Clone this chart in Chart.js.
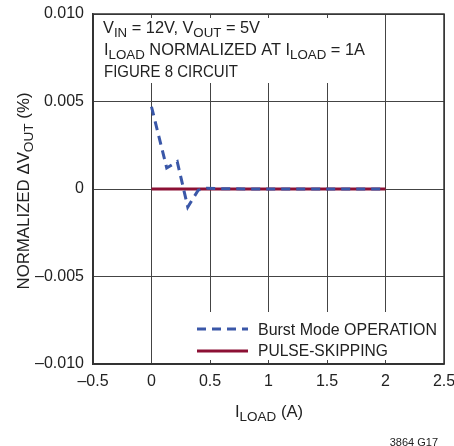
<!DOCTYPE html>
<html>
<head>
<meta charset="utf-8">
<script src="https://cdn.jsdelivr.net/npm/chart.js@4"></script>
<style>
  body { margin: 0; background: #fff; }
  canvas { display: block; }
</style>
</head>
<body>
<canvas id="myChart" width="454" height="446"></canvas>
<script>
// data
const burstLoad = [0, 0.13, 0.22, 0.31, 0.40, 0.47, 0.6, 0.8, 1.0, 1.25, 1.5, 1.75, 2.0];
const burstDelta = [0.0047, 0.0012, 0.00156, -0.00103, -0.00006, 0.00004, 0.00002, 0, 0, 0, 0, 0, 0];
const pulseLoad = [0, 0.1, 0.2, 0.3, 0.5, 0.75, 1.0, 1.25, 1.5, 1.75, 2.0];
const pulseDelta = [0, 0, 0, 0, 0, 0, 0, 0, 0, 0, 0];
const xTicks = [-0.5, 0, 0.5, 1, 1.5, 2, 2.5];
const yTicks = [-0.01, -0.005, 0, 0.005, 0.01];

const FONT = '"Liberation Sans", Arial, sans-serif';
const BLUE = '#3a57a8';
const RED = '#8c1034';
const TEXT = '#222';

function toPoints(xs, ys) {
  return xs.map((x, i) => ({ x: x, y: ys[i] }));
}

function fmt(v, digits) {
  if (Math.abs(v) < 1e-9) return '0';
  const s = digits ? Math.abs(v).toFixed(digits) : String(Math.abs(v));
  return (v < 0 ? '\u2013' : '') + s;
}

// stop the scales from pushing the plot area in for their edge labels
function fixPadding(s) {
  s.paddingLeft = 0;
  s.paddingRight = 0;
  s.paddingTop = 0;
  s.paddingBottom = 0;
}

// draw text made of [string, isSub] parts, stretched sideways to a target width
function drawRich(ctx, parts, x, y, size, subSize, align, target) {
  let w = 0;
  parts.forEach(p => {
    ctx.font = (p[1] ? subSize : size) + 'px ' + FONT;
    w += ctx.measureText(p[0]).width;
  });
  const sx = target ? target / w : 1;
  ctx.save();
  ctx.translate(x, y);
  ctx.scale(sx, 1);
  let cx = align === 'center' ? -w / 2 : 0;
  ctx.textAlign = 'left';
  ctx.textBaseline = 'alphabetic';
  parts.forEach(p => {
    ctx.font = (p[1] ? subSize : size) + 'px ' + FONT;
    ctx.fillText(p[0], cx, p[1] ? 4 : 0);
    cx += ctx.measureText(p[0]).width;
  });
  ctx.restore();
}

const boxes = {
  id: 'boxes',
  beforeDatasetsDraw(chart) {
    const ctx = chart.ctx;
    ctx.save();
    ctx.fillStyle = '#fff';
    ctx.fillRect(95, 18, 275, 65);   // note box
    ctx.fillRect(190, 312, 252, 48); // legend box
    ctx.restore();
  },
  afterDraw(chart) {
    const ctx = chart.ctx;
    const a = chart.chartArea;
    ctx.save();
    // full frame
    ctx.strokeStyle = '#333';
    ctx.lineWidth = 1.5;
    ctx.strokeRect(a.left, a.top, a.right - a.left, a.bottom - a.top);

    ctx.fillStyle = TEXT;
    // note text
    drawRich(ctx, [['V', 0], ['IN', 1], [' = 12V, V', 0], ['OUT', 1], [' = 5V', 0]], 103, 33, 16, 13, 'left', 157);
    drawRich(ctx, [['I', 0], ['LOAD', 1], [' NORMALIZED AT I', 0], ['LOAD', 1], [' = 1A', 0]], 104, 55, 16, 13, 'left', 261);
    drawRich(ctx, [['FIGURE 8 CIRCUIT', 0]], 104, 77, 16, 13, 'left', 134);

    // legend
    ctx.lineWidth = 3;
    ctx.strokeStyle = BLUE;
    ctx.setLineDash([9, 6]);
    ctx.beginPath(); ctx.moveTo(197, 329); ctx.lineTo(248, 329); ctx.stroke();
    ctx.setLineDash([]);
    ctx.strokeStyle = RED;
    ctx.beginPath(); ctx.moveTo(197, 351); ctx.lineTo(248, 351); ctx.stroke();
    drawRich(ctx, [['Burst Mode OPERATION', 0]], 258, 335, 17, 13, 'left', 179);
    drawRich(ctx, [['PULSE-SKIPPING', 0]], 258, 356, 17, 13, 'left', 130);

    // axis titles
    drawRich(ctx, [['I', 0], ['LOAD', 1], [' (A)', 0]], 269, 417, 16, 13, 'center', 68);
    ctx.save();
    ctx.translate(29, 191);
    ctx.rotate(-Math.PI / 2);
    drawRich(ctx, [['NORMALIZED \u0394V', 0], ['OUT', 1], [' (%)', 0]], 0, 0, 16, 13, 'center', 197);
    ctx.restore();

    ctx.font = '11px ' + FONT;
    ctx.textAlign = 'right';
    ctx.fillText('3864 G17', 438, 446);
    ctx.restore();
  }
};

new Chart(document.getElementById('myChart').getContext('2d'), {
  type: 'line',
  data: {
    datasets: [{
      label: 'Burst Mode OPERATION',
      data: toPoints(burstLoad, burstDelta),
      borderColor: BLUE,
      borderWidth: 3,
      borderDash: [9, 6],
      pointRadius: 0,
      tension: 0,
      order: 0,
    }, {
      label: 'PULSE-SKIPPING',
      data: toPoints(pulseLoad, pulseDelta),
      borderColor: RED,
      borderWidth: 3,
      pointRadius: 0,
      tension: 0,
      order: 1,
    }],
  },
  options: {
    responsive: false,
    animation: false,
    layout: { autoPadding: false, padding: { left: 0, top: 14, right: 10, bottom: 0 } },
    plugins: { legend: { display: false }, tooltip: { enabled: false } },
    scales: {
      x: {
        type: 'linear',
        min: -0.5,
        max: 2.5,
        afterFit: (s) => { s.height = 82; fixPadding(s); },
        afterBuildTicks: (s) => { s.ticks = xTicks.map(v => ({ value: v })); },
        ticks: { padding: 8, color: TEXT, font: { family: FONT, size: 16 }, maxRotation: 0, callback: (v) => fmt(v) },
        grid: { color: '#444', lineWidth: 1, drawTicks: false },
        border: { color: '#333', width: 1.5 },
      },
      y: {
        type: 'linear',
        min: -0.01,
        max: 0.01,
        afterFit: (s) => { s.width = 93; fixPadding(s); },
        afterBuildTicks: (s) => { s.ticks = yTicks.map(v => ({ value: v })); },
        ticks: { padding: 9, color: TEXT, font: { family: FONT, size: 16 }, callback: (v) => fmt(v, 3) },
        grid: { color: '#444', lineWidth: 1, drawTicks: false },
        border: { color: '#333', width: 1.5 },
      },
    },
  },
  plugins: [boxes],
});
</script>
</body>
</html>
